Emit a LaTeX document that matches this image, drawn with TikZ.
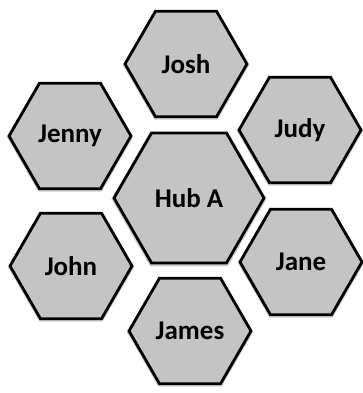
\documentclass[tikz,border=0pt]{standalone}
\usepackage{fontspec}
\setmainfont{Carlito}
\usetikzlibrary{shapes.geometric,shadows}
\begin{document}
\begin{tikzpicture}[x=1pt,y=-1pt,
  hexbox/.style={regular polygon, regular polygon sides=6, draw=black, line width=2.8pt,
    fill=gray!46, inner sep=0pt, line join=miter,
    general shadow={fill=gray!70, shadow scale=1.035, opacity=0.55, shadow yshift=-1pt},
    font=\fontsize{27}{30}\selectfont\bfseries},
  smallhex/.style={hexbox, minimum size=122pt},
  bighex/.style={hexbox, minimum size=150pt}]
\useasboundingbox (0,0) rectangle (363,393);
\node[smallhex] (josh)  at (186,64)  {Josh};
\node[smallhex] (jenny) at (70,136)  {Jenny};
\node[smallhex] (judy)  at (300,130) {Judy};
\node[bighex]   (hub)   at (189,198) {Hub A};
\node[smallhex] (john)  at (71,266)  {John};
\node[smallhex] (jane)  at (301,262) {Jane};
\node[smallhex] (james) at (190,331) {James};
\end{tikzpicture}
\end{document}
